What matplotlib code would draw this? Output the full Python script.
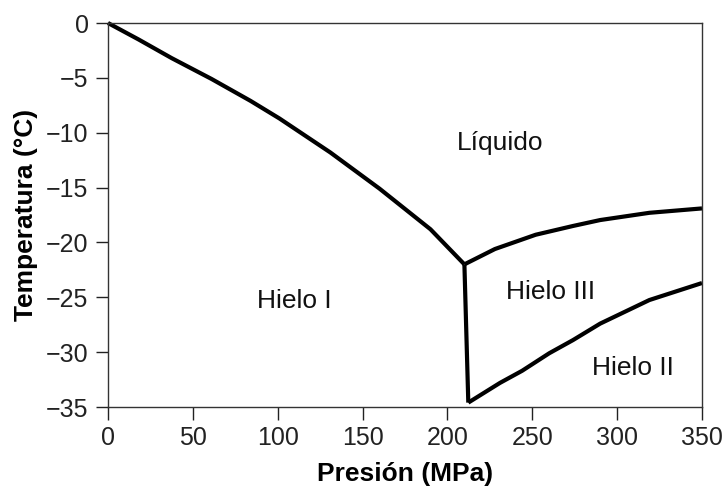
import matplotlib
matplotlib.use("Agg")
import matplotlib.pyplot as plt

plt.rcParams['font.family'] = ['Liberation Sans', 'DejaVu Sans']

# Ice I / liquid boundary
p_ice1_liq = [0, 18, 37.5, 61, 84, 101, 131, 160, 190, 210]
t_ice1_liq = [0, -1.5, -3.2, -5.1, -7.1, -8.7, -11.8, -15.1, -18.8, -22.0]
# Ice I / Ice III boundary
p_ice1_ice3 = [210, 212.3]
t_ice1_ice3 = [-22.0, -34.6]
# Ice III / liquid boundary
p_ice3_liq = [210, 228, 252, 274, 290, 319, 350]
t_ice3_liq = [-22.0, -20.6, -19.3, -18.5, -17.96, -17.3, -16.9]
# Ice III / Ice II boundary
p_ice3_ice2 = [212.3, 231, 244, 260, 274, 290, 319, 350]
t_ice3_ice2 = [-34.6, -32.8, -31.7, -30.1, -28.9, -27.4, -25.25, -23.7]

x_ticks = [0, 50, 100, 150, 200, 250, 300, 350]
y_ticks = [0, -5, -10, -15, -20, -25, -30, -35]

labels = ["Líquido", "Hielo I", "Hielo III", "Hielo II"]
label_x = [231, 110, 260.5, 309.4]
label_y = [-10.9, -25.3, -24.5, -31.45]

fig = plt.figure(figsize=(7.23, 4.90), dpi=100)
ax = fig.add_axes([108/723, 1-407/490, (702-108)/723, (407-23)/490])

for xs, ys in [(p_ice1_liq, t_ice1_liq), (p_ice1_ice3, t_ice1_ice3),
               (p_ice3_liq, t_ice3_liq), (p_ice3_ice2, t_ice3_ice2)]:
    ax.plot(xs, ys, color='black', lw=3, solid_capstyle='butt',
            solid_joinstyle='round', clip_on=False)

for s, x, y in zip(labels, label_x, label_y):
    ax.text(x, y, s, ha='center', va='center', fontsize=19, color='#111111')

ax.set_xlim(0, 350)
ax.set_ylim(-35, 0)
ax.set_xticks(x_ticks)
ax.set_yticks(y_ticks)
ax.set_yticklabels(['0' if v == 0 else '\u2212' + str(abs(v)) for v in y_ticks])
ax.tick_params(direction='out', length=9, width=1, pad=5, labelsize=18, colors='#222222')
for s in ax.spines.values():
    s.set_color('#333333')
    s.set_linewidth(1)

ax.set_xlabel('Presión (MPa)', fontsize=19, fontweight='bold', labelpad=8)
ax.set_ylabel('Temperatura (°C)', fontsize=19, fontweight='bold', labelpad=6)

fig.savefig('out.png', dpi=100)
